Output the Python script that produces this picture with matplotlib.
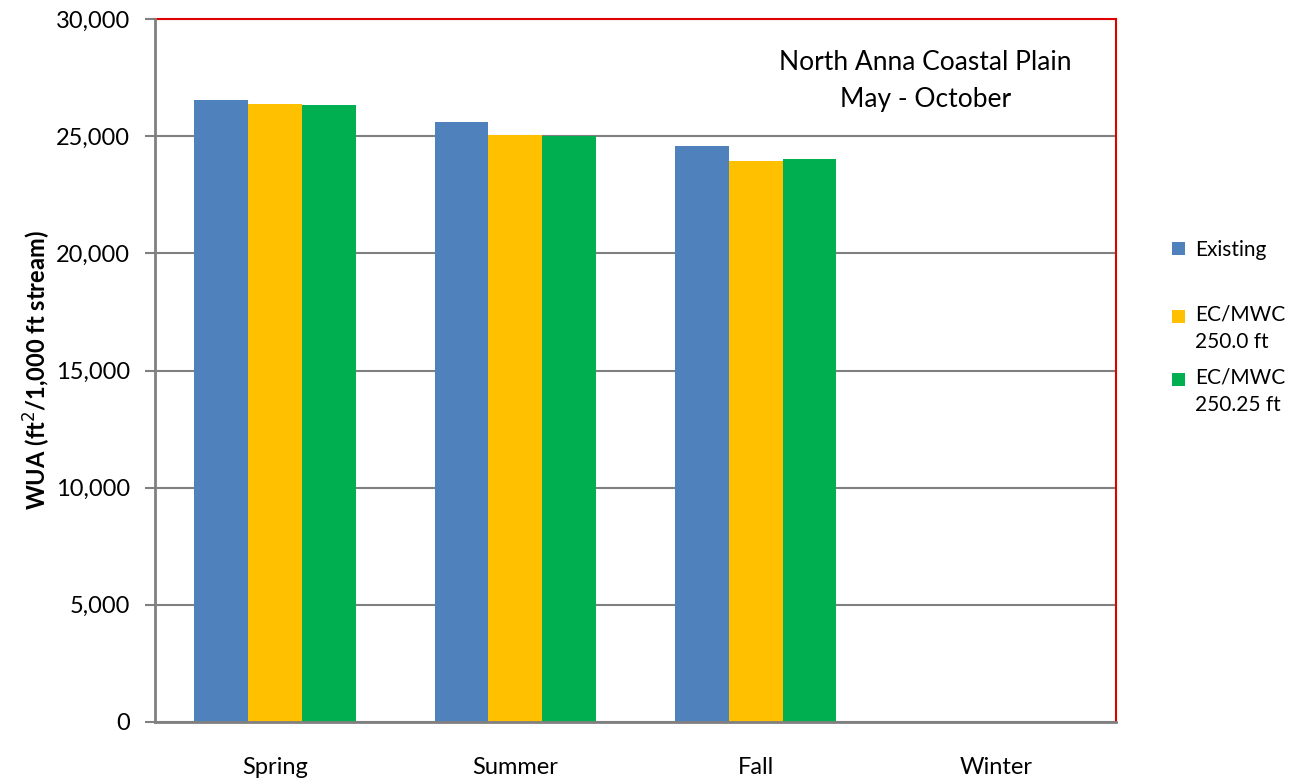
import matplotlib
matplotlib.use("Agg")
import matplotlib.pyplot as plt
import numpy as np
from matplotlib.legend_handler import HandlerPatch
from matplotlib.patches import Rectangle
from matplotlib.container import BarContainer

categories = ["Spring", "Summer", "Fall", "Winter"]
series_names = ["Existing", "EC/MWC\n250.0 ft", "EC/MWC\n250.25 ft"]
existing = [26530, 25590, 24560, 0]
ec_250_0 = [26360, 25030, 23930, 0]
ec_250_25 = [26310, 25000, 24010, 0]
colors = ["#4F81BD", "#FFC000", "#00B050"]
yticks = [0, 5000, 10000, 15000, 20000, 25000, 30000]


class TopAlignedHandler(HandlerPatch):
    def __init__(self, shift=9.0, **kw):
        super().__init__(**kw)
        self.shift = shift

    def create_artists(self, legend, orig_handle, xdescent, ydescent, width, height, fontsize, trans):
        src = orig_handle.patches[0] if isinstance(orig_handle, BarContainer) else orig_handle
        p = Rectangle((-xdescent, -ydescent + self.shift), width, height,
                      facecolor=src.get_facecolor(), edgecolor="none", transform=trans)
        return [p]


fig = plt.figure(figsize=(12.96, 7.81), dpi=100)
ax = fig.add_axes([155/1296, 1-722/781, (1116-155)/1296, (722-19)/781])

x = np.arange(len(categories))
w = 0.224
for i, (vals, name, c) in enumerate(zip([existing, ec_250_0, ec_250_25], series_names, colors)):
    ax.bar(x + (i-1)*w, vals, width=w, color=c, label=name, zorder=3)

ax.set_xlim(-0.5, len(categories)-0.5)
ax.set_ylim(0, 30000)
ax.set_yticks(yticks)
ax.set_yticklabels([f"{v:,}" for v in yticks], fontsize=17, family="Lato")
ax.set_xticks(x)
ax.set_xticklabels(categories, fontsize=17, family="Lato")
ax.tick_params(axis="x", length=0, pad=25)
ax.tick_params(axis="y", length=7, color="#808080", width=1.5, pad=11)
ax.yaxis.grid(True, color="#808080", linewidth=1.5, zorder=0)
ax.set_axisbelow(True)

for s in ["top", "right"]:
    ax.spines[s].set_color("#E00000")
    ax.spines[s].set_linewidth(1.5)
for s in ["left", "bottom"]:
    ax.spines[s].set_color("#808080")
    ax.spines[s].set_linewidth(2)
    ax.spines[s].set_zorder(4)

ax.set_ylabel("WUA (ft$^2$/1,000 ft stream)", fontsize=17, fontweight="bold", family="Lato", labelpad=2)

ax.text(0.802, 0.956, "North Anna Coastal Plain\nMay - October", transform=ax.transAxes,
        ha="center", va="top", fontsize=19, family="Lato", linespacing=1.58)

handles, labels = ax.get_legend_handles_labels()
common = dict(frameon=False, prop={"family": "Lato", "size": 15},
              handlelength=0.6, handleheight=0.6, handletextpad=0.5, borderpad=0, borderaxespad=0)
leg1 = fig.legend(handles[:1], labels[:1], loc="center left",
                  bbox_to_anchor=(1172/1296, 1-250/781), **common)
leg2 = fig.legend(handles[1:], labels[1:], loc="center left",
                  bbox_to_anchor=(1172/1296, 1-360/781), labelspacing=0.75,
                  handler_map={BarContainer: TopAlignedHandler(shift=9.0)}, **common)
for lg in (leg1, leg2):
    for t in lg.get_texts():
        t.set_linespacing(1.45)

fig.savefig("out.png", dpi=100)
